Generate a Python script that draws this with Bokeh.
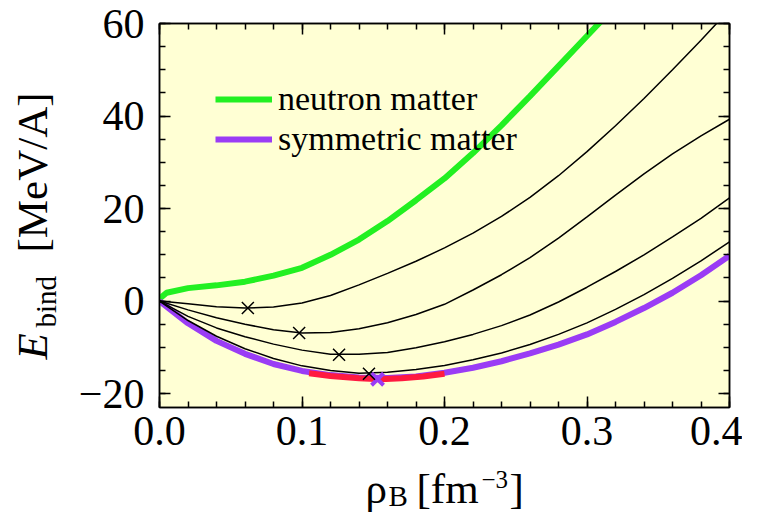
import math
from bokeh.plotting import figure
from bokeh.layouts import column, row
from bokeh.models import (Range1d, LinearAxis, FixedTicker, CustomJSTickFormatter,
                          Label, Legend, LegendItem)
from bokeh.embed import file_html
from bokeh.resources import INLINE

FONT = "Liberation Serif"

# ---------------- data ----------------
rho = [0.00, 0.02, 0.04, 0.06, 0.08, 0.10, 0.12, 0.14, 0.16, 0.18, 0.20,
       0.22, 0.24, 0.26, 0.28, 0.30, 0.32, 0.34, 0.36, 0.38, 0.40]

# symmetric nuclear matter
e_symmetric = [0.0, -4.8, -8.6, -11.4, -13.6, -15.1, -16.0, -16.5, -16.6, -16.3, -15.5,
               -14.4, -13.0, -11.3, -9.4, -7.2, -4.5, -1.5, 1.8, 5.6, 9.8]

# asymmetric matter (black curves, from most neutron-rich to least)
e_asym_1 = [0.0, -0.6, -1.2, -1.5, -1.3, -0.4, 1.2, 3.5, 6.0, 8.6, 11.5,
            14.7, 18.3, 22.4, 27.1, 32.3, 37.9, 43.8, 50.0, 56.4, 63.0]
e_asym_2 = [0.0, -1.9, -3.6, -5.0, -6.2, -6.9, -6.8, -6.0, -4.7, -2.9, -0.7,
            2.4, 5.7, 9.4, 13.6, 18.2, 22.9, 27.5, 31.8, 35.7, 39.3]
e_asym_3 = [0.0, -3.3, -5.8, -7.7, -9.3, -10.6, -11.5, -11.5, -11.1, -10.1, -8.8,
            -7.2, -5.3, -3.0, -0.2, 3.0, 6.4, 10.0, 13.9, 17.9, 22.3]
e_asym_4 = [0.0, -4.2, -7.6, -10.3, -12.4, -14.0, -15.0, -15.6, -15.4, -14.8, -13.9,
            -12.7, -11.2, -9.4, -7.2, -4.7, -1.8, 1.4, 4.9, 8.7, 12.8]

# pure neutron matter
rho_neutron = [0.000, 0.005, 0.02, 0.04, 0.06, 0.08, 0.10, 0.12, 0.14, 0.16, 0.18,
               0.20, 0.22, 0.24, 0.26, 0.28, 0.30, 0.32]
e_neutron = [0.5, 1.8, 2.8, 3.4, 4.2, 5.5, 7.2, 10.0, 13.3, 17.3, 21.8,
             26.5, 32.0, 38.0, 44.3, 50.8, 57.3, 63.8]

# empirical saturation region (red segment)
rho_red = [0.105, 0.12, 0.14, 0.155, 0.17, 0.185, 0.20]
e_red = [-15.6, -16.2, -16.7, -16.9, -16.7, -16.3, -15.7]

# saturation points of the asymmetric curves (black crosses)
rho_sat = [0.062, 0.098, 0.126, 0.147]
e_sat = [-1.5, -6.9, -11.6, -15.7]

# saturation point of symmetric matter (purple cross)
rho_sat_sym = [0.153]
e_sat_sym = [-16.9]

# ticks
x_ticks = [0.0, 0.1, 0.2, 0.3, 0.4]
x_minor = [0.0, 0.02, 0.04, 0.06, 0.08, 0.1, 0.12, 0.14, 0.16, 0.18, 0.2,
           0.22, 0.24, 0.26, 0.28, 0.3, 0.32, 0.34, 0.36, 0.38, 0.4]
y_ticks = [-20, 0, 20, 40, 60]
y_minor = [-20, -15, -10, -5, 0, 5, 10, 15, 20, 25, 30, 35, 40, 45, 50, 55, 60]

GREEN = "#22f022"
PURPLE = "#9a3cf5"
RED = "#ff1a40"
BG = "#ffffd4"

YLAB_W = 60
MAIN_W = 682
MAIN_H = 464
XLAB_H = 48

# ---------------- main figure ----------------
p = figure(width=MAIN_W, height=MAIN_H, x_range=Range1d(0, 0.4), y_range=Range1d(-23, 60),
           output_backend="svg", toolbar_location=None,
           min_border_left=99, min_border_right=13, min_border_top=23,
           min_border_bottom=MAIN_H - 23 - 384)
p.background_fill_color = BG
p.border_fill_color = "white"
p.grid.visible = False
p.outline_line_color = "black"
p.outline_line_width = 1.5

x_fmt = CustomJSTickFormatter(code="return tick.toFixed(1);")
y_fmt = CustomJSTickFormatter(code="return tick < 0 ? '\u2212' + Math.abs(tick).toFixed(0) : tick.toFixed(0);")
blank_fmt = CustomJSTickFormatter(code="return '';")


def style_axis(ax, ticks, minor, fmt, standoff, size="42px"):
    ax.ticker = FixedTicker(ticks=ticks, minor_ticks=minor)
    ax.formatter = fmt
    ax.major_tick_in = 11
    ax.major_tick_out = 0
    ax.minor_tick_in = 6
    ax.minor_tick_out = 0
    ax.axis_line_width = 1.5
    ax.major_tick_line_width = 1.5
    ax.minor_tick_line_width = 1.5
    ax.axis_line_color = "black"
    ax.major_tick_line_color = "black"
    ax.minor_tick_line_color = "black"
    ax.major_label_text_font = FONT
    ax.major_label_text_font_size = size
    ax.major_label_text_color = "black"
    ax.major_label_standoff = standoff
    ax.axis_label = None


style_axis(p.xaxis[0], x_ticks, x_minor, x_fmt, 9)
style_axis(p.yaxis[0], y_ticks, y_minor, y_fmt, 15)
top_ax = LinearAxis()
style_axis(top_ax, x_ticks, x_minor, blank_fmt, 0, "10px")
right_ax = LinearAxis()
style_axis(right_ax, y_ticks, y_minor, blank_fmt, 0, "10px")
p.add_layout(top_ax, "above")
p.add_layout(right_ax, "right")

# ---------------- curves ----------------
r_neu = p.line(rho_neutron, e_neutron, line_color=GREEN, line_width=6)
r_sym = p.line(rho, e_symmetric, line_color=PURPLE, line_width=6)
p.line(rho_red, e_red, line_color=RED, line_width=6)
for e_curve in (e_asym_1, e_asym_2, e_asym_3, e_asym_4):
    p.line(rho, e_curve, line_color="black", line_width=1.5)
p.scatter(rho_sat_sym, e_sat_sym, marker="x", size=17, line_color=PURPLE, line_width=4)
p.scatter(rho_sat, e_sat, marker="x", size=17, line_color="black", line_width=1.5)

legend = Legend(items=[LegendItem(label="neutron matter", renderers=[r_neu]),
                       LegendItem(label="symmetric matter", renderers=[r_sym])],
                location="top_left", margin=46, padding=10, spacing=0,
                glyph_width=57, glyph_height=40, label_height=40, label_standoff=6,
                label_text_font=FONT, label_text_font_size="34px", label_text_color="black",
                background_fill_alpha=0, border_line_alpha=0)
p.add_layout(legend)


# ---------------- axis titles in their own blank panels ----------------
def blank_fig(w, h):
    f = figure(width=w, height=h, x_range=Range1d(0, 1), y_range=Range1d(0, 1),
               output_backend="svg", toolbar_location=None,
               x_axis_location=None, y_axis_location=None, min_border=0)
    f.grid.visible = False
    f.outline_line_color = None
    f.background_fill_color = "white"
    f.border_fill_color = "white"
    return f


def lab(f, x, y, text, size, style="normal", angle=0.0):
    f.add_layout(Label(x=x, y=y, x_units="screen", y_units="screen", text=text,
                       text_font=FONT, text_font_size=size, text_font_style=style,
                       text_color="black", angle=angle, text_align="left",
                       text_baseline="middle"))


# y title: E_bind [MeV/A]  (rotated)
yfig = blank_fig(YLAB_W, MAIN_H)
A = math.pi / 2
ybot = MAIN_H - 66
lab(yfig, 32, ybot - 350, "E", "43px", "italic", A)
lab(yfig, 45, ybot - 318, "bind", "29px", "normal", A)
lab(yfig, 32, ybot - 243, "[MeV/A]", "43px", "normal", A)

# x title: rho_B [fm^-3]
xfig = blank_fig(YLAB_W + MAIN_W, XLAB_H)
base = MAIN_H + XLAB_H
lab(xfig, 365, base - 488, "\u03c1", "43px")
lab(xfig, 388, base - 495.2, "B", "29px")
lab(xfig, 416, base - 488, "[fm", "43px")
lab(xfig, 481, base - 478.6, "\u22123", "25px")
lab(xfig, 509, base - 488, "]", "43px")

layout = column(row(yfig, p), xfig)

open("out.html", "w").write(file_html(layout, INLINE))
